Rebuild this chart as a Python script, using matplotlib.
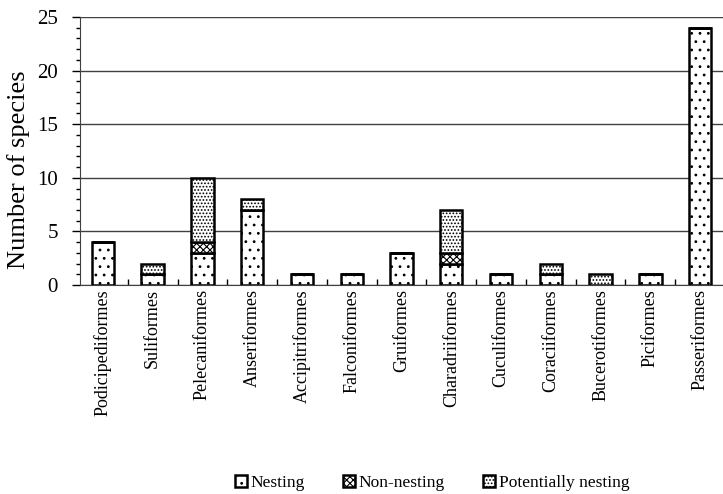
import matplotlib
matplotlib.use("Agg")
import matplotlib.pyplot as plt
import numpy as np

plt.rcParams['font.family'] = ['Liberation Serif', 'DejaVu Serif']
plt.rcParams['hatch.linewidth'] = 0.8

orders = ["Podicipediformes", "Suliformes", "Pelecaniformes", "Anseriformes",
          "Accipitriformes", "Falconiformes", "Gruiformes", "Charadriiformes",
          "Cuculiformes", "Coraciiformes", "Bucerotiformes", "Piciformes",
          "Passeriformes"]
nesting = [4, 1, 3, 7, 1, 1, 3, 2, 1, 1, 0, 1, 24]
non_nesting = [0, 0, 1, 0, 0, 0, 0, 1, 0, 0, 0, 0, 0]
potentially = [0, 1, 6, 1, 0, 0, 0, 4, 0, 1, 1, 0, 0]

fig = plt.figure(figsize=(7.23, 4.94), dpi=100)
ax = fig.add_axes([80/723, 1 - 285/494, 643/723, 268/494])

x = np.arange(len(orders))
w = 0.45
nest = np.array(nesting)
non = np.array(non_nesting)
pot = np.array(potentially)

b1 = ax.bar(x, nest, w, color='white', edgecolor='black', linewidth=1.8,
            hatch='..', label='Nesting', zorder=3)
b2 = ax.bar(x, non, w, bottom=nest, color='white', edgecolor='black',
            linewidth=1.8, hatch='xxxxx', label='Non-nesting', zorder=3)
b3 = ax.bar(x, pot, w, bottom=nest + non, color='white', edgecolor='black',
            linewidth=1.8, hatch='.....', label='Potentially nesting', zorder=3)

ax.set_ylim(0, 25)
ax.set_xlim(-0.46, 12.46)
ax.set_yticks(range(0, 26, 5))
ax.set_yticks(range(0, 26), minor=True)
ax.yaxis.grid(True, which='major', color='#404040', linewidth=1.0, zorder=0)
ax.tick_params(axis='y', which='major', length=6, width=1, labelsize=15,
               direction='out', pad=10)
ax.tick_params(axis='y', which='minor', length=3, width=1, direction='out')

ax.set_xticks(x)
ax.set_xticklabels(orders, rotation=90, fontsize=13)
ax.tick_params(axis='x', which='major', length=0, pad=3)
ax.set_xticks(np.arange(0.5, 12.5, 1), minor=True)
ax.tick_params(axis='x', which='minor', length=4, width=1, direction='in')

for side in ['top', 'right']:
    ax.spines[side].set_visible(False)
ax.spines['left'].set_color('#404040')
ax.spines['bottom'].set_color('#404040')

ax.set_ylabel('Number of species', fontsize=19)
ax.yaxis.set_label_coords(-0.078, 0.43)

fig.legend(handles=[b1, b2, b3], loc='center', bbox_to_anchor=(432/723, 1 - 483/494),
           ncol=3, frameon=False, fontsize=12.5, handlelength=0.7, handleheight=0.7,
           handletextpad=0.2, columnspacing=2.2)

fig.savefig('out.png', dpi=100)
